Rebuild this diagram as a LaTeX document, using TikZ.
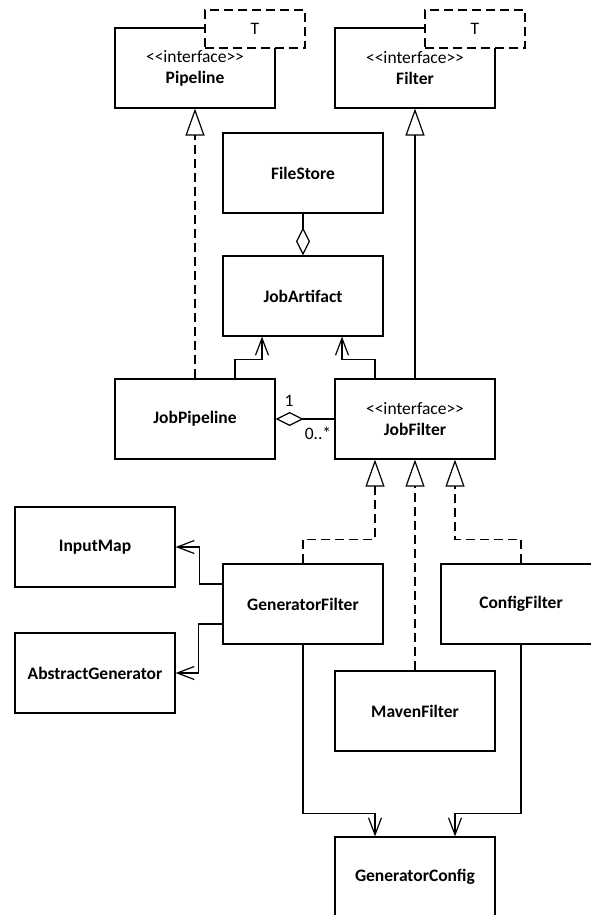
\documentclass[tikz,border=0pt]{standalone}
\usepackage{fontspec}
\setmainfont{Carlito}
\usetikzlibrary{arrows.meta}
\newcommand{\stereo}[1]{\textless\kern0pt\textless\kern0pt #1\kern0pt\textgreater\kern0pt\textgreater}
\begin{document}
\begin{tikzpicture}[x=1pt,y=-1pt,
  every node/.style={font=\fontsize{17.5}{21}\selectfont},
  cls/.style={draw, line width=1.2pt, fill=white, minimum width=160pt, minimum height=80pt,
    align=center, inner sep=0pt},
  tmpl/.style={draw, line width=1.2pt, fill=white, dash pattern=on 9pt off 5pt,
    minimum width=100pt, minimum height=38pt, inner sep=0pt},
  link/.style={line width=1.2pt},
  assoc/.style={link, -{Straight Barb[length=17pt,width=13pt,line width=1.2pt]}},
  real/.style={link, dash pattern=on 9pt off 5pt,
    -{Triangle[open,length=27pt,width=19pt,line width=1.2pt,fill=white]}},
  gen/.style={link, -{Triangle[open,length=27pt,width=19pt,line width=1.2pt,fill=white]}},
  aggr/.style={link, -{Diamond[open,length=28pt,width=14pt,line width=1.2pt,fill=white]}},
  mult/.style={inner sep=0pt}
]
\useasboundingbox (0,0) rectangle (591,915);

% generic interfaces with their template parameter
\node[cls] (Pipeline) at (195,68) {\stereo{interface}\\\textbf{Pipeline}};
\node[tmpl] (PipelineT) at (255,29) {T};
\node[cls] (Filter) at (415,68) {\stereo{interface}\\\textbf{Filter}};
\node[tmpl] (FilterT) at (475,29) {T};

% classes
\node[cls] (FileStore) at (303,173) {\textbf{FileStore}};
\node[cls] (JobArtifact) at (303,296) {\textbf{JobArtifact}};
\node[cls] (JobPipeline) at (195,419) {\textbf{JobPipeline}};
\node[cls] (JobFilter) at (415,419) {\stereo{interface}\\\textbf{JobFilter}};
\node[cls] (InputMap) at (95,547) {\textbf{InputMap}};
\node[cls] (AbstractGenerator) at (95,673) {\textbf{AbstractGenerator}};
\node[cls] (GeneratorFilter) at (303,604) {\textbf{GeneratorFilter}};
\node[cls] (ConfigFilter) at (521,604) {\textbf{ConfigFilter}};
\node[cls] (MavenFilter) at (415,711) {\textbf{MavenFilter}};
\node[cls] (GeneratorConfig) at (415,877) {\textbf{GeneratorConfig}};

% realization and generalization
\draw[real] (JobPipeline.north) -- (Pipeline.south);
\draw[gen] (JobFilter.north) -- (Filter.south);
\draw[real] (GeneratorFilter.north) -- ++(0,-24) -| ([xshift=-40pt]JobFilter.south);
\draw[real] (MavenFilter.north) -- (JobFilter.south);
\draw[real] (ConfigFilter.north) -- ++(0,-24) -| ([xshift=40pt]JobFilter.south);

% aggregations
\draw[aggr] (FileStore.south) -- (JobArtifact.north);
\draw[aggr] (JobFilter.west) -- (JobPipeline.east);
\node[mult] (one) at (289,401) {1};
\node[mult] (many) at (318,433) {0..*};

% associations
\draw[assoc] ([xshift=40pt]JobPipeline.north) -- ++(0,-19) -| ([xshift=-41pt]JobArtifact.south);
\draw[assoc] ([xshift=-40pt]JobFilter.north) -- ++(0,-19) -| ([xshift=39pt]JobArtifact.south);
\draw[assoc] ([yshift=20pt]GeneratorFilter.west) -- ++(-23,0) |- (InputMap.east);
\draw[assoc] ([yshift=-20pt]GeneratorFilter.west) -- ++(-24,0) |- (AbstractGenerator.east);
\draw[assoc] (GeneratorFilter.south) -- ++(0,169) -| ([xshift=-40pt]GeneratorConfig.north);
\draw[assoc] (ConfigFilter.south) -- ++(0,169) -| ([xshift=40pt]GeneratorConfig.north);
\end{tikzpicture}
\end{document}
